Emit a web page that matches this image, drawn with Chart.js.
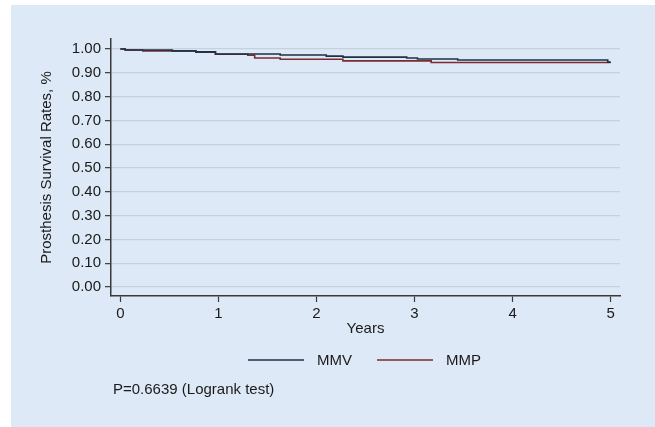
<!DOCTYPE html>
<html>
<head>
<meta charset="utf-8">
<script src="https://cdn.jsdelivr.net/npm/chart.js@4"></script>
<style>
  html, body { margin: 0; padding: 0; background: #ffffff; }
  #wrap { width: 655px; height: 427px; }
</style>
</head>
<body>
<div id="wrap"><canvas id="km" width="655" height="427"></canvas></div>
<script>
const mmvYears = [0, 0.05, 0.53, 0.77, 0.97, 1.63, 2.10, 2.27, 2.92, 3.03, 3.44, 4.97, 5.0];
const mmvSurvival = [1.0, 0.996, 0.992, 0.988, 0.979, 0.975, 0.970, 0.966, 0.962, 0.958, 0.954, 0.945, 0.945];
const mmpYears = [0, 0.05, 0.23, 0.77, 0.97, 1.30, 1.37, 1.63, 2.27, 3.17, 5.0];
const mmpSurvival = [1.0, 0.996, 0.992, 0.987, 0.978, 0.974, 0.962, 0.957, 0.950, 0.943, 0.943];
const xTicks = [0, 1, 2, 3, 4, 5];
const yTicks = [0, 0.1, 0.2, 0.3, 0.4, 0.5, 0.6, 0.7, 0.8, 0.9, 1.0];
const seriesNames = ["MMV", "MMP"];
const pValueText = "P=0.6639 (Logrank test)";

const FONT = "'Liberation Sans', Arial, sans-serif";
const lineColors = ["#1e3146", "#7e2b30"];

const toPoints = (xs, ys) => xs.map((x, i) => ({ x: x, y: ys[i] }));

// background + legend + p-value, drawn on the canvas
const frame = {
  id: "frame",
  beforeDraw(chart) {
    const c = chart.ctx;
    c.save();
    c.fillStyle = "#ffffff";
    c.fillRect(0, 0, chart.width, chart.height);
    c.fillStyle = "#dde9f6";
    c.fillRect(11, 5, chart.width - 11, chart.height - 5);
    c.restore();
  },
  afterDraw(chart) {
    const c = chart.ctx;
    c.save();
    c.font = "15px " + FONT;
    c.textBaseline = "middle";
    c.fillStyle = "#1a1a1a";
    const items = [
      { x1: 248, x2: 304, tx: 317 },
      { x1: 377, x2: 433, tx: 446 },
    ];
    items.forEach((it, i) => {
      c.strokeStyle = lineColors[i];
      c.lineWidth = 1.5;
      c.beginPath();
      c.moveTo(it.x1, 360);
      c.lineTo(it.x2, 360);
      c.stroke();
      c.fillText(seriesNames[i], it.tx, 361);
    });
    c.fillText(pValueText, 113, 390);
    c.restore();
  },
};

new Chart(document.getElementById("km"), {
  type: "line",
  data: {
    datasets: [
      {
        label: seriesNames[0],
        data: toPoints(mmvYears, mmvSurvival),
        borderColor: lineColors[0],
        borderWidth: 1.6,
        stepped: true,
        pointRadius: 0,
        fill: false,
      },
      {
        label: seriesNames[1],
        data: toPoints(mmpYears, mmpSurvival),
        borderColor: lineColors[1],
        borderWidth: 1.6,
        stepped: true,
        pointRadius: 0,
        fill: false,
      },
    ],
  },
  options: {
    responsive: false,
    animation: false,
    layout: { padding: { left: 0, top: 39, right: 35, bottom: 81 } },
    plugins: {
      legend: { display: false },
      tooltip: { enabled: false },
    },
    scales: {
      x: {
        type: "linear",
        min: -0.095,
        max: 5.095,
        afterBuildTicks: (s) => { s.ticks = xTicks.map((v) => ({ value: v })); },
        afterFit: (s) => { s.height = 50; },
        border: { color: "#3a3a3a", width: 1.5 },
        grid: { drawOnChartArea: false, drawTicks: true, tickLength: 6, tickColor: "#3a3a3a", tickWidth: 1.2 },
        ticks: { color: "#1a1a1a", padding: 3, maxRotation: 0, font: { family: FONT, size: 15 }, callback: (v) => String(v) },
        title: { display: true, text: "Years", color: "#1a1a1a", padding: { top: 0, bottom: 8 }, font: { family: FONT, size: 15 } },
      },
      y: {
        type: "linear",
        min: -0.038,
        max: 1.042,
        afterBuildTicks: (s) => { s.ticks = yTicks.map((v) => ({ value: v })); },
        afterFit: (s) => { s.width = 111; },
        border: { color: "#3a3a3a", width: 1.5 },
        grid: { color: "#c5d2dd", lineWidth: 1.3, drawTicks: true, tickLength: 6, tickColor: "#3a3a3a", tickWidth: 1.2 },
        ticks: { color: "#1a1a1a", padding: 4, font: { family: FONT, size: 15 }, callback: (v) => Number(v).toFixed(2) },
        title: { display: true, text: "Prosthesis Survival Rates, %", color: "#1a1a1a", padding: { top: 38, bottom: 0 }, font: { family: FONT, size: 15 } },
      },
    },
  },
  plugins: [frame],
});
</script>
</body>
</html>
